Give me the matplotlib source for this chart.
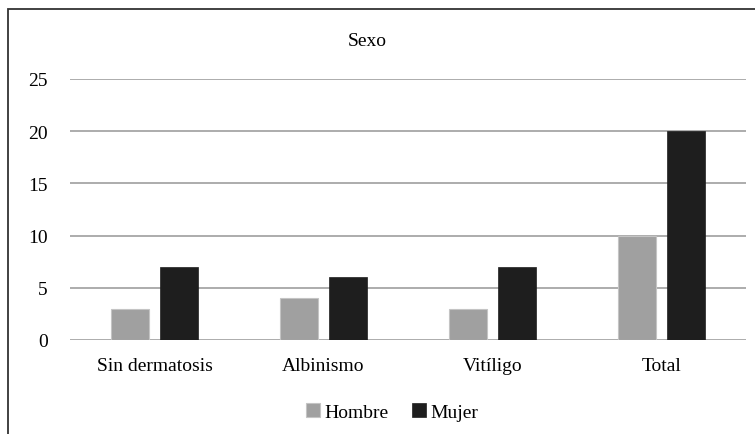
import numpy as np
import matplotlib.pyplot as plt
from matplotlib.patches import Rectangle

# datos del grafico
categorias = ['Sin dermatosis', 'Albinismo', 'Vitíligo', 'Total']
hombre = [3, 4, 3, 10]
mujer = [7, 6, 7, 20]
yticks = [0, 5, 10, 15, 20, 25]

plt.rcParams['font.family'] = ['Liberation Serif', 'DejaVu Serif']

fig = plt.figure(figsize=(7.55, 4.35), dpi=100)
ax = fig.add_axes([70 / 755, 94 / 435, 676 / 755, 261 / 435])

x = np.arange(len(categorias))
w = 0.224
off = 0.145
ax.bar(x - off, hombre, w, color='#a0a0a0', edgecolor='#c4c4c4', linewidth=0.8,
       label='Hombre', zorder=3)
ax.bar(x + off, mujer, w, color='#1e1e1e', edgecolor='#1e1e1e', linewidth=0.5,
       label='Mujer', zorder=3)

ax.set_xlim(-0.5, len(categorias) - 0.5)
ax.set_ylim(0, 25)
ax.set_yticks(yticks)
ax.set_xticks(x)
ax.set_xticklabels(categorias, fontsize=14)
ax.tick_params(axis='y', labelsize=14, length=0, pad=16)
ax.tick_params(axis='x', length=0, pad=12)
ax.yaxis.grid(True, color='#a6a6a6', linewidth=1.3, zorder=0)
for s in ax.spines.values():
    s.set_visible(False)

fig.text(367 / 755, 1 - 41 / 435, 'Sexo', ha='center', va='center', fontsize=14)

fig.legend(loc='center', bbox_to_anchor=(392 / 755, 1 - 413 / 435), ncol=2,
           frameon=False, fontsize=14, handlelength=0.75, handleheight=0.75,
           handletextpad=0.2, columnspacing=1.2)

# marco exterior
fig.patches.append(Rectangle((8 / 755, -0.05), 1.1, 1.05 - 10 / 435, transform=fig.transFigure,
                             fill=False, edgecolor='#333333', linewidth=1.3))

fig.savefig('out.png', dpi=100)
